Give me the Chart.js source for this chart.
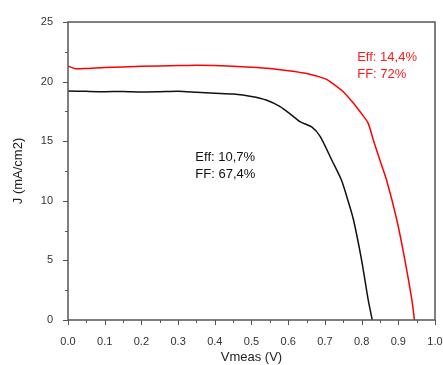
<!DOCTYPE html>
<html><head><meta charset="utf-8">
<script src="https://cdn.jsdelivr.net/npm/chart.js@4/dist/chart.umd.min.js"></script>
<style>html,body{margin:0;padding:0;background:#fff}#wrap{width:443px;height:365px}</style>
</head><body><div id="wrap"><canvas id="c" width="443" height="365"></canvas></div>
<script>
const redV = [0, 0.02, 0.05, 0.1, 0.2, 0.3, 0.35, 0.4, 0.5, 0.55, 0.6, 0.65, 0.7, 0.714, 0.75, 0.78, 0.8, 0.818, 0.832, 0.85, 0.868, 0.896, 0.918, 0.937, 0.944];
const redJ = [21.3, 21.08, 21.1, 21.18, 21.28, 21.35, 21.38, 21.35, 21.2, 21.1, 20.92, 20.68, 20.25, 20.0, 19.15, 18.1, 17.3, 16.5, 15.1, 13.4, 11.74, 8.39, 5.03, 1.68, 0];
const blackV = [0, 0.05, 0.1, 0.15, 0.2, 0.25, 0.3, 0.35, 0.4, 0.45, 0.5, 0.54, 0.578, 0.605, 0.632, 0.664, 0.687, 0.719, 0.745, 0.764, 0.778, 0.8, 0.818, 0.829];
const blackJ = [19.22, 19.18, 19.15, 19.17, 19.13, 19.15, 19.18, 19.1, 19.02, 18.95, 18.75, 18.45, 17.9, 17.3, 16.64, 16.2, 15.4, 13.4, 11.74, 9.9, 8.39, 5.03, 1.68, 0];
const xTicks = [0.0, 0.1, 0.2, 0.3, 0.4, 0.5, 0.6, 0.7, 0.8, 0.9, 1.0];
const yTicks = [0, 5, 10, 15, 20, 25];
const notes = [
  {text: ['Eff: 10,7%', 'FF: 67,4%'], v: 0.347, j: 13.6, color: '#111'},
  {text: ['Eff: 14,4%', 'FF: 72%'], v: 0.788, j: 22.06, color: '#ff1a1a'}
];
const toPts = (v, j) => v.map((x, i) => ({x: x, y: j[i]}));

const framePlugin = {
  id: 'frame',
  afterDraw(chart) {
    const ctx = chart.ctx, a = chart.chartArea, xs = chart.scales.x, ys = chart.scales.y;
    ctx.save();
    ctx.strokeStyle = '#555';
    ctx.lineWidth = 1.5;
    ctx.strokeRect(a.left, a.top, a.right - a.left, a.bottom - a.top);
    ctx.lineWidth = 1;
    for (let t = 0; t <= 1.0001; t += 0.05) {
      const px = Math.round(xs.getPixelForValue(t)) + 0.5;
      const major = Math.abs(t * 10 - Math.round(t * 10)) < 1e-6;
      ctx.beginPath(); ctx.moveTo(px, a.bottom); ctx.lineTo(px, a.bottom + (major ? 5 : 3)); ctx.stroke();
    }
    for (let t = 0; t <= 25.001; t += 2.5) {
      const py = Math.round(ys.getPixelForValue(t)) + 0.5;
      const major = Math.abs(t / 5 - Math.round(t / 5)) < 1e-6;
      ctx.beginPath(); ctx.moveTo(a.left, py); ctx.lineTo(a.left - (major ? 5 : 3), py); ctx.stroke();
    }
    ctx.font = '13px "Liberation Sans", Arial, sans-serif';
    ctx.textBaseline = 'middle';
    ctx.textAlign = 'left';
    notes.forEach(n => {
      const px = xs.getPixelForValue(n.v), py = ys.getPixelForValue(n.j);
      ctx.fillStyle = n.color;
      n.text.forEach((s, i) => ctx.fillText(s, px, py + i * 17));
    });
    ctx.restore();
  }
};

new Chart(document.getElementById('c'), {
  type: 'scatter',
  data: {
    datasets: [
      {data: toPts(redV, redJ), showLine: true, borderColor: '#ff0000', borderWidth: 1.5, pointRadius: 0, tension: 0.25, fill: false},
      {data: toPts(blackV, blackJ), showLine: true, borderColor: '#111', borderWidth: 1.5, pointRadius: 0, tension: 0.25, fill: false}
    ]
  },
  options: {
    responsive: false,
    animation: false,
    events: [],
    layout: {padding: {left: 11, right: 8, top: 22, bottom: 0}},
    plugins: {legend: {display: false}, tooltip: {enabled: false}},
    scales: {
      x: {
        type: 'linear', min: 0, max: 1,
        afterBuildTicks: s => { s.ticks = xTicks.map(v => ({value: v})); },
        afterFit: s => { s.height = 45; s.paddingLeft = 0; s.paddingRight = 0; },
        grid: {display: false},
        border: {display: false},
        ticks: {color: '#333', font: {size: 11, family: '"Liberation Sans", Arial, sans-serif'}, padding: 7, maxRotation: 0, autoSkip: false,
                callback: v => v.toFixed(1)},
        title: {display: true, text: 'Vmeas (V)', color: '#222', font: {size: 13, family: '"Liberation Sans", Arial, sans-serif'}, padding: {top: 4, bottom: 0}}
      },
      y: {
        type: 'linear', min: 0, max: 25,
        afterBuildTicks: s => { s.ticks = yTicks.map(v => ({value: v})); },
        afterFit: s => { s.width = 57; },
        grid: {display: false},
        border: {display: false},
        ticks: {color: '#333', font: {size: 11, family: '"Liberation Sans", Arial, sans-serif'}, padding: 7, autoSkip: false},
        title: {display: true, text: 'J (mA/cm2)', color: '#222', font: {size: 13, family: '"Liberation Sans", Arial, sans-serif'}, padding: {top: 0, bottom: 10}}
      }
    }
  },
  plugins: [framePlugin]
});
</script></body></html>
